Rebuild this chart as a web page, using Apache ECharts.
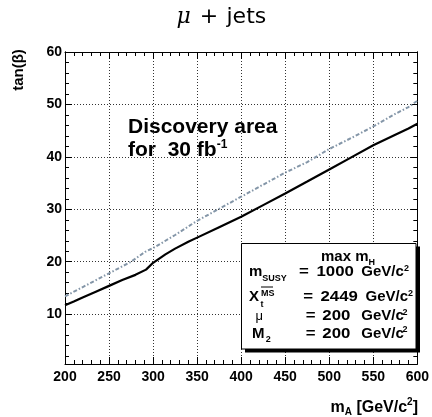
<!DOCTYPE html>
<html>
<head>
<meta charset="utf-8">
<script src="https://cdn.jsdelivr.net/npm/echarts@6/dist/echarts.min.js"></script>
<style>
  html, body { margin: 0; padding: 0; background: #fff; }
  #chart { width: 432px; height: 417px; }
</style>
</head>
<body>
<div id="chart"></div>
<script>
// 5-sigma discovery contour, solid curve: m_A [GeV/c^2] and tan(beta)
const mA_solid   = [200, 210, 220, 235, 250, 265, 280, 292, 300, 314, 325, 340, 350, 375, 400, 425, 450, 475, 488, 500, 525, 550, 575, 590, 600];
const tanB_solid = [11.7, 12.4, 13.2, 14.3, 15.4, 16.5, 17.5, 18.5, 19.8, 21.4, 22.5, 23.8, 24.6, 26.6, 28.6, 30.8, 33.0, 35.3, 36.5, 37.6, 39.9, 42.2, 44.2, 45.4, 46.3];

// dash-dotted curve
const mA_dash    = [200, 225, 250, 275, 291, 300, 325, 350, 375, 400, 425, 450, 475, 500, 525, 550, 575, 590, 600];
const tanB_dash  = [13.4, 15.6, 17.8, 20.0, 21.9, 22.6, 25.1, 27.8, 30.1, 32.4, 34.7, 37.0, 39.0, 41.5, 43.6, 45.8, 48.2, 49.5, 50.7];

// axis ticks
const xTickLabels  = [200, 250, 300, 350, 400, 450, 500, 550, 600];
const yTickLabels  = [10, 20, 30, 40, 50, 60];
const yMinorTicks  = [2, 4, 6, 8, 12, 14, 16, 18, 22, 24, 26, 28, 32, 34, 36, 38, 42, 44, 46, 48, 52, 54, 56, 58];

const SANS = '"Liberation Sans", Arial, Helvetica, sans-serif';
const BASE_K = 0.35; // offset from alphabetic baseline to canvas "middle"

const measureCtx = document.createElement('canvas').getContext('2d');
function fontOf(size, weight, family, style) {
  return (style || 'normal') + ' ' + (weight || 'bold') + ' ' + size + 'px ' + (family || SANS);
}
function textWidth(text, font) {
  measureCtx.font = font;
  return measureCtx.measureText(text).width;
}
// one text element whose alphabetic baseline sits at y = base
function piece(x, base, text, size, opts) {
  opts = opts || {};
  const f = fontOf(size, opts.weight, opts.family, opts.style);
  const a = opts.align || 'left';
  const el = {
    type: 'text', x: x, y: base - size * BASE_K, z: 100, silent: true,
    rotation: opts.rotation || 0,
    style: { text: text, font: f, fill: '#000', align: a, textAlign: a, verticalAlign: 'middle', textVerticalAlign: 'middle' }
  };
  if (opts.scaleX) el.scaleX = opts.scaleX;
  return el;
}
// a run of pieces (for sub/superscripts), laid out left to right
function run(x, base, parts, align) {
  const widths = parts.map(p => textWidth(p.t, fontOf(p.s, p.weight, p.family, p.style)));
  const total = widths.reduce((a, b) => a + b, 0);
  let cx = align === 'right' ? x - total : (align === 'center' ? x - total / 2 : x);
  const out = [];
  parts.forEach((p, i) => {
    out.push(piece(cx, base + (p.dy || 0), p.t, p.s, p));
    cx += widths[i];
  });
  return out;
}

const graphics = [];

// title
graphics.push(piece(176.5, 25, 'μ', 22, { weight: 'normal', style: 'italic', family: '"DejaVu Serif", serif' }));
graphics.push(piece(209, 25, '+', 22, { weight: 'normal', family: '"DejaVu Sans", sans-serif', align: 'center' }));
graphics.push(piece(226.5, 25, 'jets', 22, { weight: 'normal', family: '"DejaVu Sans", sans-serif' }));

// axis titles
graphics.push(Object.assign(piece(0, 0, 'tan(β)', 15, { align: 'center', rotation: Math.PI / 2 }), { x: 18.5, y: 70 }));
run(418, 413, [
  { t: 'm', s: 16 }, { t: 'A', s: 10, dy: 3 }, { t: ' [GeV/c', s: 16 }, { t: '2', s: 10, dy: -7 }, { t: ']', s: 16 }
], 'right').forEach(e => graphics.push(e));

// annotation inside the plot
graphics.push(piece(128, 135, 'Discovery area', 21));
run(128, 158, [{ t: 'for  30 fb', s: 21 }, { t: '-1', s: 12, dy: -9 }], 'left').forEach(e => graphics.push(e));

// parameter box with drop shadow
graphics.push({ type: 'rect', z: 90, silent: true, shape: { x: 245, y: 246.5, width: 175, height: 106 }, style: { fill: '#000' } });
graphics.push({ type: 'rect', z: 95, silent: true, shape: { x: 241.5, y: 243.5, width: 174.5, height: 105.5 }, style: { fill: '#fff', stroke: '#000', lineWidth: 1 } });

run(321, 262.3, [{ t: 'max m', s: 15 }, { t: 'H', s: 9, dy: 3 }], 'left').forEach(e => graphics.push(e));

const NUM = { scaleX: 1.12 };

// m_SUSY
run(249, 277.3, [{ t: 'm', s: 15 }, { t: 'SUSY', s: 9, dy: 4.5 }], 'left').forEach(e => graphics.push(e));
graphics.push(piece(299, 277.3, '=', 15, NUM));
graphics.push(piece(316.5, 277.3, '1000', 15, NUM));
graphics.push(piece(361.3, 277.3, 'GeV/c', 15));
graphics.push(piece(404, 271.3, '2', 9));

// X_t^MS
graphics.push(piece(249, 302.3, 'X', 15));
graphics.push(piece(260.5, 307.5, 't', 9));
graphics.push(piece(261, 297, 'MS', 9));
graphics.push({ type: 'line', z: 100, silent: true, shape: { x1: 261, y1: 287, x2: 273, y2: 287 }, style: { stroke: '#000', lineWidth: 1 } });
graphics.push(piece(303.3, 302.3, '=', 15, NUM));
graphics.push(piece(320.5, 302.3, '2449', 15, NUM));
graphics.push(piece(365.5, 302.3, 'GeV/c', 15));
graphics.push(piece(408, 296.3, '2', 9));

// mu
graphics.push(piece(255.5, 321.3, 'μ', 13, { weight: 'normal' }));
graphics.push(piece(305.7, 321.3, '=', 15, NUM));
graphics.push(piece(322.3, 321.3, '200', 15, NUM));
graphics.push(piece(361.3, 321.3, 'GeV/c', 15));
graphics.push(piece(402.5, 315.3, '2', 9));

// M_2
graphics.push(piece(252, 339, 'M', 15));
graphics.push(piece(265.7, 342.5, '2', 9));
graphics.push(piece(305.7, 339, '=', 15, NUM));
graphics.push(piece(322.3, 339, '200', 15, NUM));
graphics.push(piece(361.3, 339, 'GeV/c', 15));
graphics.push(piece(402.5, 333, '2', 9));

const axisLineStyle = { show: true, lineStyle: { color: '#000', width: 1 } };
const gridLine = { show: true, lineStyle: { color: '#333', width: 1, type: [1, 2] } };
const labelFont = { fontFamily: SANS, fontWeight: 'bold', fontSize: 14, color: '#000' };

function yAxisDef(position, values, len, withLabels, withGrid) {
  return {
    type: 'value', position: position, min: 0.5, max: 60,
    axisLine: axisLineStyle,
    axisTick: { show: true, inside: true, length: len, customValues: values, lineStyle: { color: '#000' } },
    axisLabel: withLabels ? Object.assign({ show: true, margin: 3, customValues: values }, labelFont) : { show: false },
    splitLine: withGrid ? gridLine : { show: false },
    minorTick: { show: false }
  };
}
function xAxisDef(position, withLabels, withGrid) {
  return {
    type: 'value', position: position, min: 200, max: 600, interval: 50,
    axisLine: axisLineStyle,
    axisTick: { show: true, inside: true, length: 7, customValues: xTickLabels, lineStyle: { color: '#000' } },
    minorTick: { show: true, splitNumber: 5, length: 4, lineStyle: { color: '#000' } },
    axisLabel: withLabels ? Object.assign({ show: true, margin: 6, customValues: xTickLabels }, labelFont) : { show: false },
    splitLine: withGrid ? gridLine : { show: false }
  };
}

const chart = echarts.init(document.getElementById('chart'), null, { renderer: 'canvas' });
chart.setOption({
  animation: false,
  backgroundColor: '#fff',
  grid: { left: 65, right: 14, top: 52, bottom: 53, containLabel: false },
  xAxis: [
    xAxisDef('bottom', true, true),
    xAxisDef('top', false, false)
  ],
  yAxis: [
    yAxisDef('left', yTickLabels, 7, true, true),
    yAxisDef('left', yMinorTicks, 4, false, false),
    yAxisDef('right', yTickLabels, 7, false, false),
    yAxisDef('right', yMinorTicks, 4, false, false)
  ],
  series: [
    {
      type: 'line', xAxisIndex: 0, yAxisIndex: 0,
      data: mA_solid.map((m, i) => [m, tanB_solid[i]]),
      showSymbol: false, symbol: 'none', silent: true, z: 3,
      lineStyle: { color: '#000', width: 2.2 }
    },
    {
      type: 'line', xAxisIndex: 0, yAxisIndex: 0,
      data: mA_dash.map((m, i) => [m, tanB_dash[i]]),
      showSymbol: false, symbol: 'none', silent: true, z: 3,
      lineStyle: { color: '#8496a8', width: 2, type: [4, 2, 1.5, 2] }
    }
  ],
  graphic: { elements: graphics }
});
</script>
</body>
</html>
